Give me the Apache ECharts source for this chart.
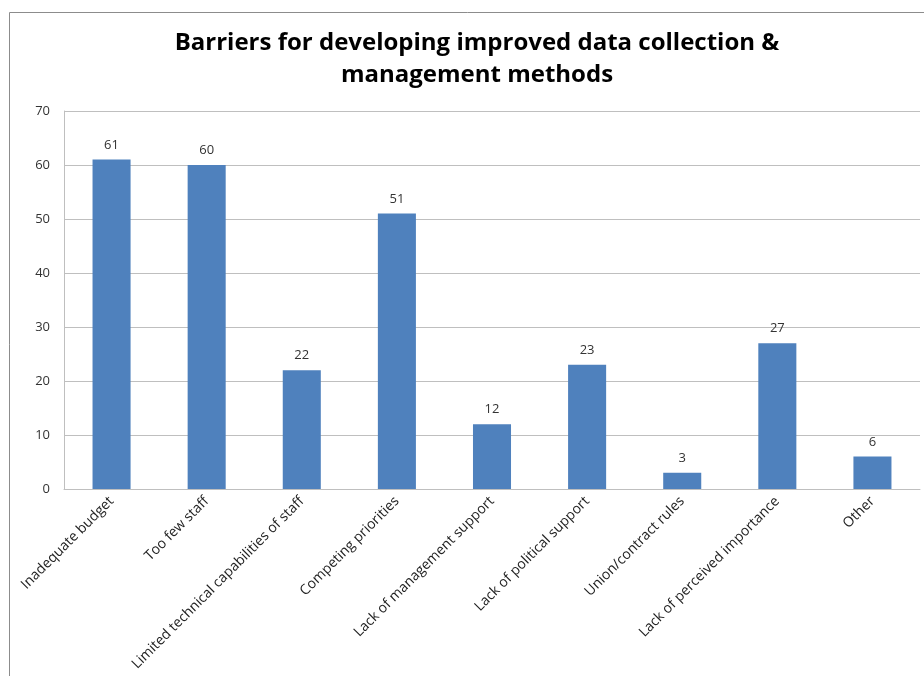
<!DOCTYPE html>
<html><head><meta charset="utf-8">
<script src="https://cdn.jsdelivr.net/npm/echarts@6/dist/echarts.min.js"></script>
<style>html,body{margin:0;padding:0;background:#fff}#c{width:924px;height:676px}</style>
</head><body><div id="c"></div>
<script>
const categories = ["Inadequate budget","Too few staff","Limited technical capabilities of staff","Competing priorities","Lack of management support","Lack of political support","Union/contract rules","Lack of perceived importance","Other"];
const values = [61,60,22,51,12,23,3,27,6];
const titleText = "Barriers for developing improved data collection &\nmanagement methods";

const chart = echarts.init(document.getElementById('c'));
chart.setOption({
  animation:false,
  backgroundColor:'#fff',
  graphic:[{type:'rect',shape:{x:9.5,y:12.5,width:930,height:700},style:{fill:'none',stroke:'#8c8c8c',lineWidth:1},silent:true}],
  title:{text:titleText,left:472,top:22,textAlign:'center',
    textStyle:{fontFamily:'Open Sans',fontWeight:'bold',fontSize:24,color:'#000',lineHeight:32}},
  grid:{left:64,right:4,top:111,bottom:187,containLabel:false},
  xAxis:{type:'category',data:categories,
    axisLine:{lineStyle:{color:'#bfbfbf',width:1}},
    axisTick:{show:false},
    axisLabel:{rotate:45,interval:0,fontFamily:'Open Sans',fontSize:14,color:'#222',margin:10}},
  yAxis:{type:'value',min:0,max:70,interval:10,
    axisLine:{show:true,lineStyle:{color:'#bfbfbf'}},
    axisTick:{show:false},
    splitLine:{lineStyle:{color:'#bfbfbf'}},
    axisLabel:{fontFamily:'Open Sans',fontSize:13,color:'#333',margin:14}},
  series:[{type:'bar',data:values,barWidth:'40%',
    itemStyle:{color:'#4f81bd'},
    label:{show:true,position:'top',distance:8,fontFamily:'Open Sans',fontSize:13,color:'#333'}}]
});
</script></body></html>
